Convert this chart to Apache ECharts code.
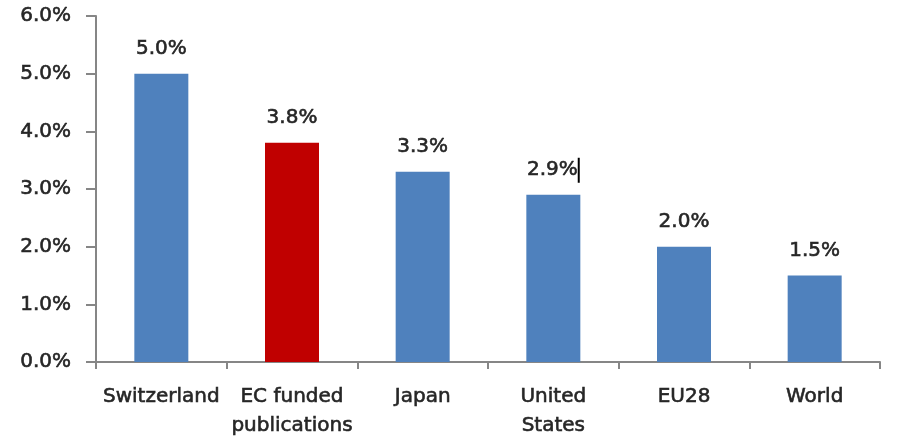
<!DOCTYPE html>
<html>
<head>
<meta charset="utf-8">
<script src="https://cdn.jsdelivr.net/npm/echarts@6/dist/echarts.min.js"></script>
<style>
  html, body { margin: 0; padding: 0; background: #fff; }
  #chart { width: 904px; height: 441px; }
</style>
</head>
<body>
<div id="chart"></div>
<script>
// Share of publications (percent)
const categories = ['Switzerland', 'EC funded\npublications', 'Japan', 'United\nStates', 'EU28', 'World'];
const shareValues = [5.0, 3.8, 3.3, 2.9, 2.0, 1.5];
const highlightIndex = 1;
const cursorIndex = 3;

const FONT = '"DejaVu Sans", sans-serif';
const TEXT = '#262626';
const AXIS = '#868686';
const FS = 20;

// regular weight, slightly thickened with a thin outline in the text colour
const textStyle = {
  color: TEXT, fontFamily: FONT, fontSize: FS,
  textBorderColor: TEXT, textBorderWidth: 0.6
};

const chart = echarts.init(document.getElementById('chart'));

chart.setOption({
  animation: false,
  grid: { left: 96, right: 24, top: 16, bottom: 79, containLabel: false },
  xAxis: {
    type: 'category',
    data: categories,
    axisLine: { lineStyle: { color: AXIS, width: 2 } },
    axisTick: { show: true, alignWithLabel: false, length: 7, lineStyle: { color: AXIS, width: 2 } },
    axisLabel: Object.assign({ margin: 20, lineHeight: 29, interval: 0 }, textStyle)
  },
  yAxis: {
    type: 'value',
    min: 0, max: 6, interval: 1,
    splitLine: { show: false },
    axisLine: { show: true, lineStyle: { color: AXIS, width: 2 } },
    axisTick: { show: true, length: 10, lineStyle: { color: AXIS, width: 2 } },
    axisLabel: Object.assign({
      margin: 25,
      formatter: v => v.toFixed(1) + '%'
    }, textStyle)
  },
  series: [{
    type: 'bar',
    barWidth: 54,
    data: shareValues.map((v, i) => {
      const item = {
        value: v,
        itemStyle: { color: i === highlightIndex ? '#C00000' : '#4F81BD' }
      };
      if (i === cursorIndex) item.label = { distance: 12 };
      return item;
    }),
    label: Object.assign({
      show: true,
      position: 'top',
      distance: 15,
      formatter: p => p.dataIndex === cursorIndex
        ? '{v|' + p.value.toFixed(1) + '%}{c|}'
        : p.value.toFixed(1) + '%',
      rich: {
        v: Object.assign({}, textStyle),
        c: { width: 2, height: 25, backgroundColor: '#000' }
      }
    }, textStyle)
  }]
});
</script>
</body>
</html>
